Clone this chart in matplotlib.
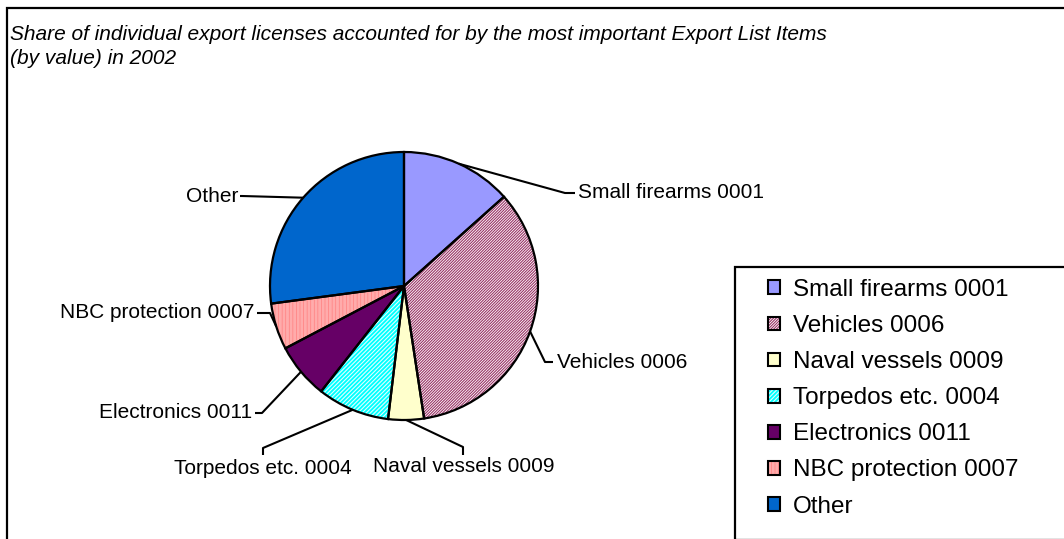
import numpy as np
import matplotlib.pyplot as plt
from matplotlib.patches import Patch, Rectangle

plt.rcParams['font.family'] = ['Liberation Sans', 'DejaVu Sans']
plt.rcParams['hatch.linewidth'] = 0.8

W, H = 1064, 539

# Share of individual export licenses (% of value), 2002
items = ['Small firearms 0001', 'Vehicles 0006', 'Naval vessels 0009',
         'Torpedos etc. 0004', 'Electronics 0011', 'NBC protection 0007', 'Other']
shares = [13.4, 34.2, 4.3, 8.7, 6.7, 5.6, 27.1]

# fill colour, hatch pattern and hatch colour per item
face_colors = ['#9999FF', '#FFFFFF', '#FFFFCC', '#00FFFF', '#660066', '#FFFFFF', '#0066CC']
hatches = [None, '/' * 12, None, '/' * 8, None, '|' * 12, None]
hatch_colors = ['#9999FF', '#993366', '#FFFFCC', '#E0FFFF', '#660066', '#FF8C8C', '#0066CC']


def px(x, y):
    # pixel position (y measured from the top) -> axes data coords
    return x, H - y


fig = plt.figure(figsize=(W / 100, H / 100), dpi=100)
ax = fig.add_axes([0, 0, 1, 1])

center = px(404, 286)
radius = 134

# fill + hatch layer
fills, _ = ax.pie(shares, colors=face_colors, startangle=90, counterclock=False,
                  center=center, radius=radius, frame=True,
                  wedgeprops=dict(linewidth=0))
for w, hc, ht in zip(fills, hatch_colors, hatches):
    w.set_edgecolor(hc)
    if ht:
        w.set_hatch(ht)

# black outlines on top
outlines, _ = ax.pie(shares, colors=['none'] * len(shares), startangle=90,
                     counterclock=False, center=center, radius=radius, frame=True,
                     wedgeprops=dict(linewidth=1.6, edgecolor='black', fill=False))
ax.set_xlim(0, W)
ax.set_ylim(0, H)
ax.axis('off')

# leader lines: wedge mid-point -> elbow -> label end, then text
label_layout = [
    ((565, 193), (575, 193), (578, 193), 'left', 'center'),
    ((545, 362), (553, 362), (557, 362), 'left', 'center'),
    ((463, 447), (463, 455), (464, 467), 'center', 'center'),
    ((263, 448), (263, 455), (263, 469), 'center', 'center'),
    ((262, 413), (255, 413), (252, 413), 'right', 'center'),
    ((270, 313), (257, 313), (254, 313), 'right', 'center'),
    ((242, 196), (240, 196), (238, 196), 'right', 'center'),
]
for w, name, (elbow, end, tpos, ha, va) in zip(outlines, items, label_layout):
    mid = np.deg2rad((w.theta1 + w.theta2) / 2)
    sx = center[0] + radius * np.cos(mid)
    sy = center[1] + radius * np.sin(mid)
    ex, ey = px(*elbow)
    nx, ny = px(*end)
    ax.plot([sx, ex, nx], [sy, ey, ny], color='black', lw=1.5, solid_capstyle='butt')
    tx, ty = px(*tpos)
    ax.text(tx, ty, name, ha=ha, va=va, fontsize=15)

ax.text(10, H - 35, 'Share of individual export licenses accounted for by the most important Export List Items',
        ha='left', va='center', fontsize=15, style='italic')
ax.text(10, H - 58, '(by value) in 2002', ha='left', va='center', fontsize=15, style='italic')

# legend box (runs past the figure edge)
ax.add_patch(Rectangle(px(735, 540), 400, 540 - 267, fill=False, lw=1.6, ec='black', clip_on=False))

handles = []
for fc, ht, hc in zip(face_colors, hatches, hatch_colors):
    fill = Patch(facecolor=fc, edgecolor=hc, hatch=ht, lw=0)
    edge = Patch(facecolor='none', edgecolor='black', lw=1.5)
    handles.append((fill, edge))
fig.legend(handles, items, loc='upper left', bbox_to_anchor=(768 / W, 1 - 279 / H),
           frameon=False, fontsize=17.5, handlelength=0.5, handleheight=0.5,
           handletextpad=0.53, labelspacing=0.58, borderpad=0, borderaxespad=0)

# outer chart frame
ax.add_patch(Rectangle(px(7, 545), 1100, 545 - 8, fill=False, lw=1.6, ec='black', clip_on=False))

fig.savefig('out.png', dpi=100)
